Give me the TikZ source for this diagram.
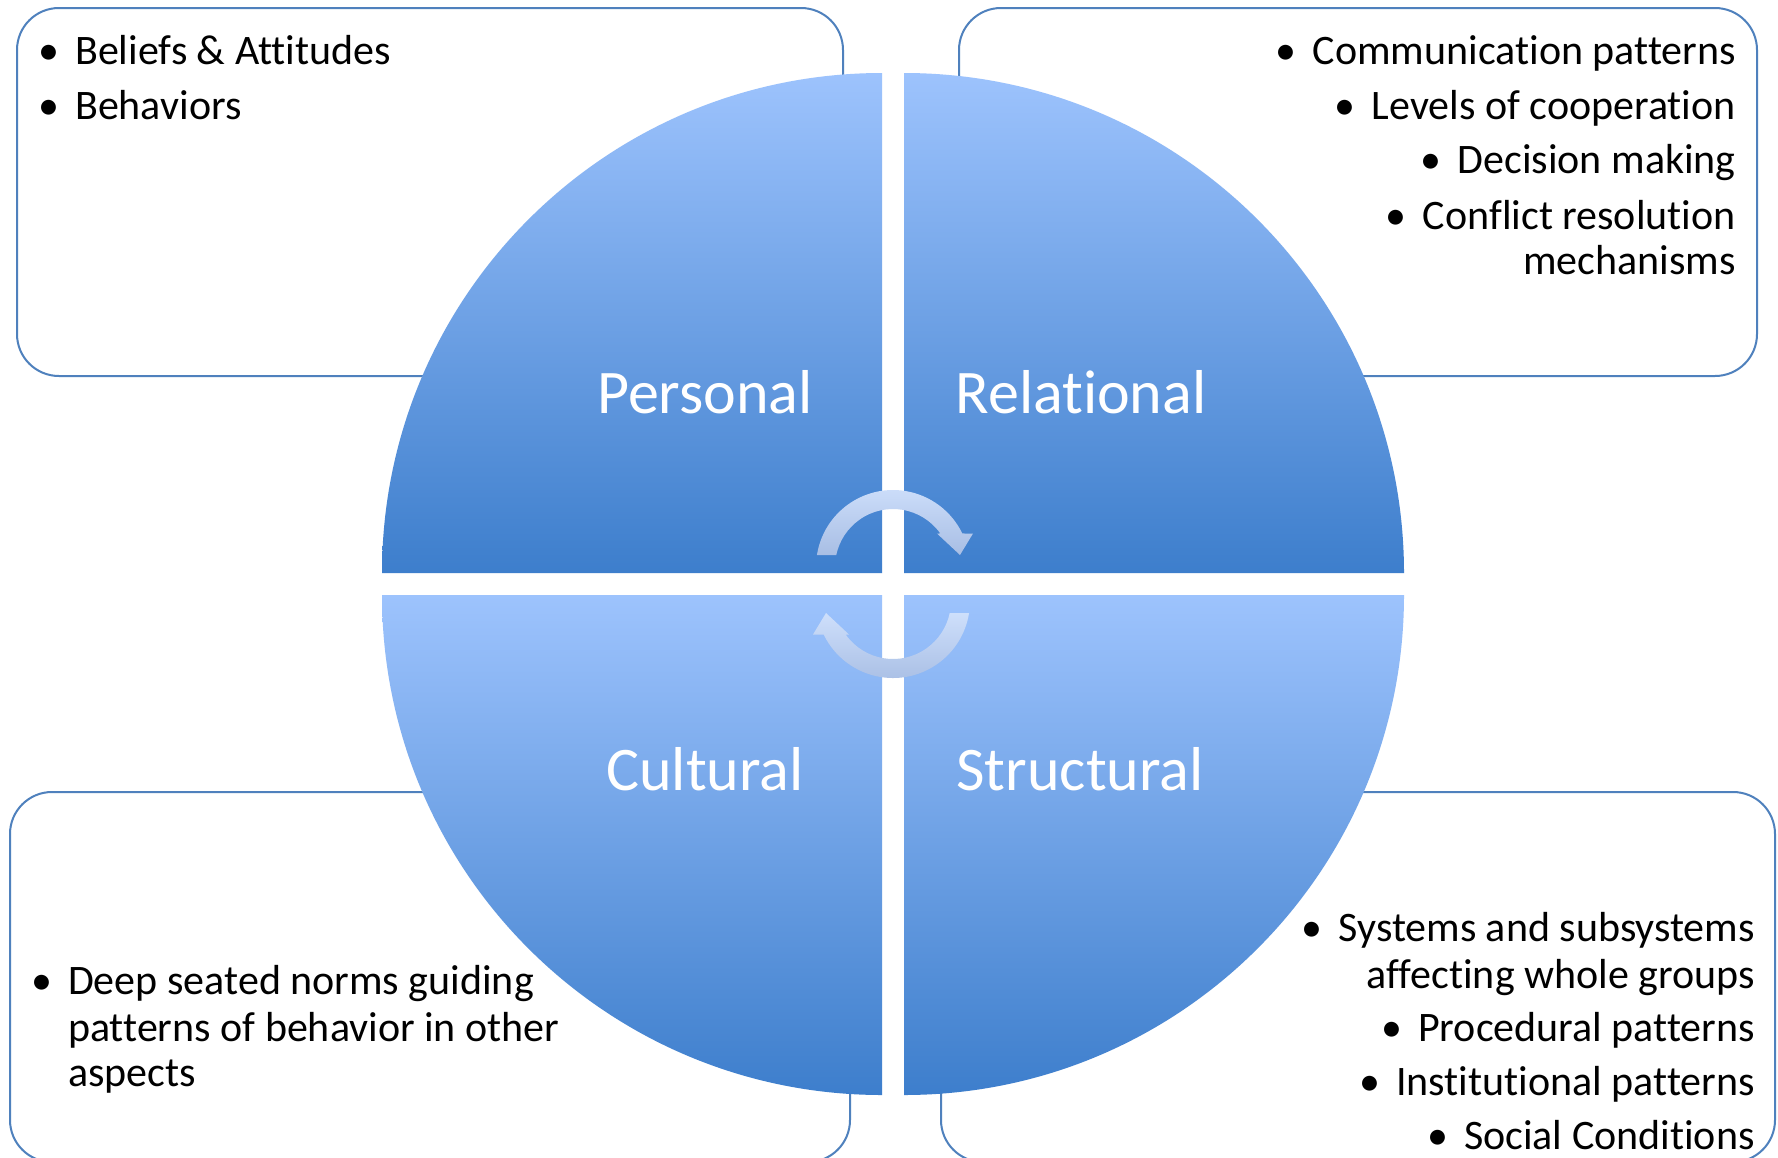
\documentclass[tikz,border=0pt]{standalone}
\usepackage{fontspec}
\setmainfont{Carlito}[Ligatures=NoCommon]
\definecolor{boxline}{RGB}{79,129,189}
\definecolor{qtop}{RGB}{157,195,253}
\definecolor{qbot}{RGB}{61,126,204}
\definecolor{atop}{RGB}{206,223,251}
\definecolor{abot}{RGB}{168,190,228}
\newcommand\bul{\makebox[37pt][l]{•}}
\begin{document}
\begin{tikzpicture}[x=1pt,y=1pt,
  infobox/.style={draw=boxline, line width=2pt, rounded corners=42pt},
  quad/.style={top color=qtop, bottom color=qbot, draw=none},
  cyc/.style={top color=atop, bottom color=abot, draw=none},
  lbl/.style={text=white, font=\fontsize{62}{74}\selectfont, inner sep=0pt, anchor=base},
  itemL/.style={font=\fontsize{42}{50}\selectfont, inner sep=0pt, anchor=base west},
  itemR/.style={font=\fontsize{42}{50}\selectfont, inner sep=0pt, anchor=base east}]
\useasboundingbox (0,0) rectangle (1778,-1157);
\fill[white] (0,0) rectangle (1778,-1157);

% info boxes
\draw[infobox] (17,-8) rectangle (843,-376);
\draw[infobox] (959,-8) rectangle (1757,-376);
\draw[infobox] (10,-792) rectangle (850,-1162);
\draw[infobox] (941,-792) rectangle (1775,-1162);

% quadrants
\shade[quad] (882,-573) -- (382,-573) arc[start angle=180, end angle=90, radius=500] -- cycle;
\shade[quad] (904,-573) -- (904,-73) arc[start angle=90, end angle=0, radius=500] -- cycle;
\shade[quad] (882,-595) -- (382,-595) arc[start angle=180, end angle=270, radius=500] -- cycle;
\shade[quad] (904,-595) -- (904,-1095) arc[start angle=270, end angle=360, radius=500] -- cycle;

% cycle arrows
\begin{scope}[shift={(893,-567)}]
  \shade[cyc] (168.06:58) -- (171.03:77) arc[start angle=171.03, end angle=25.8, radius=77]
    -- (80,33.5) -- (67,12) -- (44,33.5) -- (35.3:58)
    arc[start angle=35.3, end angle=168.06, radius=58] -- cycle;
\end{scope}
\begin{scope}[shift={(893,-601)}]
  \shade[cyc] (348.06:58) -- (351.03:77) arc[start angle=351.03, end angle=205.8, radius=77]
    -- (-80,-33.5) -- (-67,-12) -- (-44,-33.5) -- (215.3:58)
    arc[start angle=215.3, end angle=348.06, radius=58] -- cycle;
\end{scope}

% quadrant labels
\node[lbl] (personal) at (705,-413) {Personal};
\node[lbl] (relational) at (1081,-413) {Relational};
\node[lbl] (cultural) at (705,-790) {Cultural};
\node[lbl] (structural) at (1080,-790) {Structural};

% top-left items
\node[itemL] (tl1) at (38,-64) {\bul Beliefs \& Attitudes};
\node[itemL] (tl2) at (38,-119) {\bul Behaviors};

% top-right items
\node[itemR] (tr1) at (1736,-64) {\bul Communication patterns};
\node[itemR] (tr2) at (1736,-119) {\bul Levels of cooperation};
\node[itemR] (tr3) at (1736,-173) {\bul Decision making};
\node[itemR] (tr4) at (1736,-229) {\bul Conflict resolution};
\node[itemR] (tr5) at (1736,-274) {mechanisms};

% bottom-left items
\node[itemL] (bl1) at (31,-994) {\bul Deep seated norms guiding};
\node[itemL] (bl2) at (68,-1041) {patterns of behavior in other};
\node[itemL] (bl3) at (68,-1086) {aspects};

% bottom-right items
\node[itemR] (br1) at (1755,-941) {\bul Systems and subsystems};
\node[itemR] (br2) at (1755,-988) {affecting whole groups};
\node[itemR] (br3) at (1755,-1041) {\bul Procedural patterns};
\node[itemR] (br4) at (1755,-1095) {\bul Institutional patterns};
\node[itemR] (br5) at (1755,-1149) {\bul Social Conditions};
\end{tikzpicture}
\end{document}
